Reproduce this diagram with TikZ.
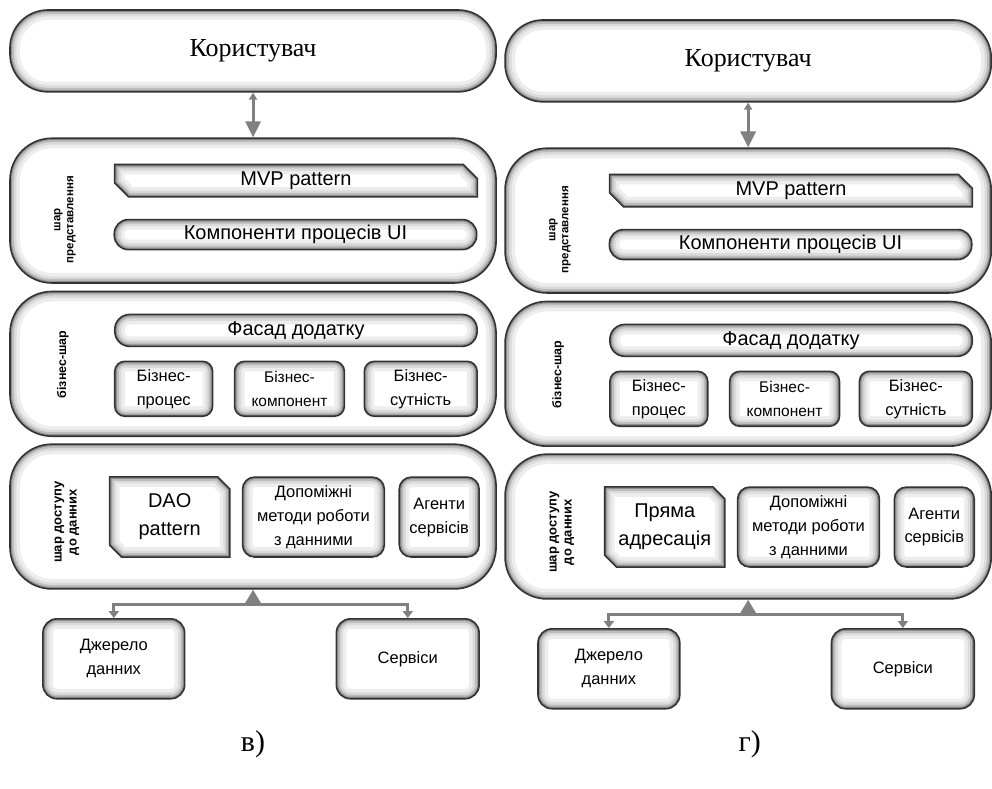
\documentclass[tikz,border=0pt]{standalone}
\usepackage{fontspec}
\setmainfont{Liberation Serif}
\newfontfamily\lsans{Liberation Sans}
\usetikzlibrary{arrows.meta,calc}

\pgfdeclarelayer{back}
\pgfdeclarelayer{mid}
\pgfsetlayers{back,mid,main}

\newcommand\barfont{\lsans\fontsize{20}{22}\selectfont}
\newcommand\boxfont{\lsans\fontsize{16.5}{24}\selectfont}
\newcommand\boxfontsm{\lsans\fontsize{15.5}{24}\selectfont}

\tikzset{
  glowrect/.style={path picture={
      \foreach \w/\c in {20/7,13/14,8/26,4/44}{
        \draw[line width=\w pt, black!\c, rounded corners=#1 pt]
          (path picture bounding box.south west) rectangle (path picture bounding box.north east);}}},
  box/.style={draw=black!80, line width=1.6pt, fill=white, rounded corners=#1 pt,
    glowrect=#1, align=center, inner sep=0pt},
  sniptext/.style={align=center, inner sep=0pt},
  layerlab/.style={rotate=90, align=center},
  conn/.style={draw=black!50, line width=3pt},
}

\newcommand\sniproute[2]{let \p1=(#1.south west), \p2=(#1.north east) in
  (\x1+#2pt,\y1) -- (\x2,\y1) -- (\x2,\y2-#2pt) -- (\x2-#2pt,\y2) -- (\x1,\y2) -- (\x1,\y1+#2pt) -- cycle}

\newcommand\snipdraw[2]{%
  \begin{pgfonlayer}{mid}
    \fill[white] \sniproute{#1}{#2};
    \begin{scope}
      \clip \sniproute{#1}{#2};
      \foreach \w/\c in {20/7,13/14,8/26,4/44}{
        \draw[line width=\w pt, black!\c, line join=miter] \sniproute{#1}{#2};}
    \end{scope}
    \draw[draw=black!80, line width=1.6pt] \sniproute{#1}{#2};
  \end{pgfonlayer}}

\newcommand\drawpanel[2]{%
  \begin{pgfonlayer}{back}
    \node[box=38, minimum width=487pt, minimum height=82pt, font=\fontsize{26}{30}\selectfont] (user#1) at (253.5,51) {Користувач};
    \node[box=42, minimum width=487pt, minimum height=145pt] (pres#1) at (253.5,211) {};
    \node[box=42, minimum width=487pt, minimum height=145pt] (bus#1) at (253.5,364.5) {};
    \node[box=42, minimum width=487pt, minimum height=145pt] (data#1) at (253.5,517.5) {};
  \end{pgfonlayer}
  \node[layerlab, font=\lsans\bfseries\fontsize{11.5}{13}\selectfont] (presl#1) at (65,220) {шар\\представлення};
  \node[sniptext, minimum width=363pt, minimum height=32pt, font=\barfont] (mvp#1) at (296.5,181) {MVP pattern};
  \snipdraw{mvp#1}{14}
  \node[box=14, minimum width=363pt, minimum height=30pt, font=\barfont] (ui#1) at (296,235) {Компоненти процесів UI};
  \node[layerlab, font=\lsans\bfseries\fontsize{12.5}{14}\selectfont] (busl#1) at (63,365) {бізнес-шар};
  \node[box=15, minimum width=363pt, minimum height=32pt, font=\barfont] (fac#1) at (296.5,331) {Фасад додатку};
  \node[box=10, minimum width=98pt, minimum height=55pt, font=\boxfont] (bp#1) at (164,389.5) {Бізнес-\\процес};
  \node[box=10, minimum width=110pt, minimum height=55pt, font=\boxfontsm] (bc#1) at (290,389.5) {Бізнес-\\компонент};
  \node[box=10, minimum width=113pt, minimum height=55pt, font=\boxfont] (be#1) at (421.5,389.5) {Бізнес-\\сутність};
  \node[layerlab, font=\lsans\bfseries\fontsize{13}{15}\selectfont] (datal#1) at (67,523) {шар доступу\\до данних};
  \node[sniptext, minimum width=120pt, minimum height=80pt, font=\lsans\fontsize{20}{28}\selectfont] (dao#1) at (170,518) {#2};
  \snipdraw{dao#1}{12}
  \node[box=12, minimum width=142pt, minimum height=80pt, font=\boxfont] (help#1) at (314,518) {Допоміжні\\методи роботи\\з данними};
  \node[box=12, minimum width=80pt, minimum height=80pt, font=\boxfont] (ag#1) at (440,518) {Агенти\\сервісів};
  \node[box=14, minimum width=142pt, minimum height=80pt, font=\boxfont] (src#1) at (114,660) {Джерело\\данних};
  \node[box=14, minimum width=143pt, minimum height=80pt, font=\boxfont] (svc#1) at (408.5,660) {Сервіси};
  \draw[conn, {Triangle[width=8pt,length=7pt]}-{Triangle[width=15pt,length=16pt]}] (user#1) -- (pres#1);
  \coordinate (j#1) at (253.5,606);
  \draw[conn, -{Triangle[width=17pt,length=15pt]}] (j#1) -- (data#1);
  \draw[conn, -{Triangle[width=10pt,length=7pt]}] (j#1) -| (src#1);
  \draw[conn, -{Triangle[width=10pt,length=7pt]}] (j#1) -| (svc#1);
}

\begin{document}
\begin{tikzpicture}[x=1pt, y=-1pt]
  \begin{pgfonlayer}{back}
    \useasboundingbox[fill=white] (0,0) rectangle (992,790);
  \end{pgfonlayer}
  \drawpanel{L}{DAO\\pattern}
  \begin{scope}[shift={(496,10)}]
    \drawpanel{R}{Пряма\\адресація}
  \end{scope}
  \node[font=\fontsize{30}{34}\selectfont] (capL) at (253.5,746) {в)};
  \node[font=\fontsize{30}{34}\selectfont] (capR) at (751,746) {г)};
\end{tikzpicture}
\end{document}
